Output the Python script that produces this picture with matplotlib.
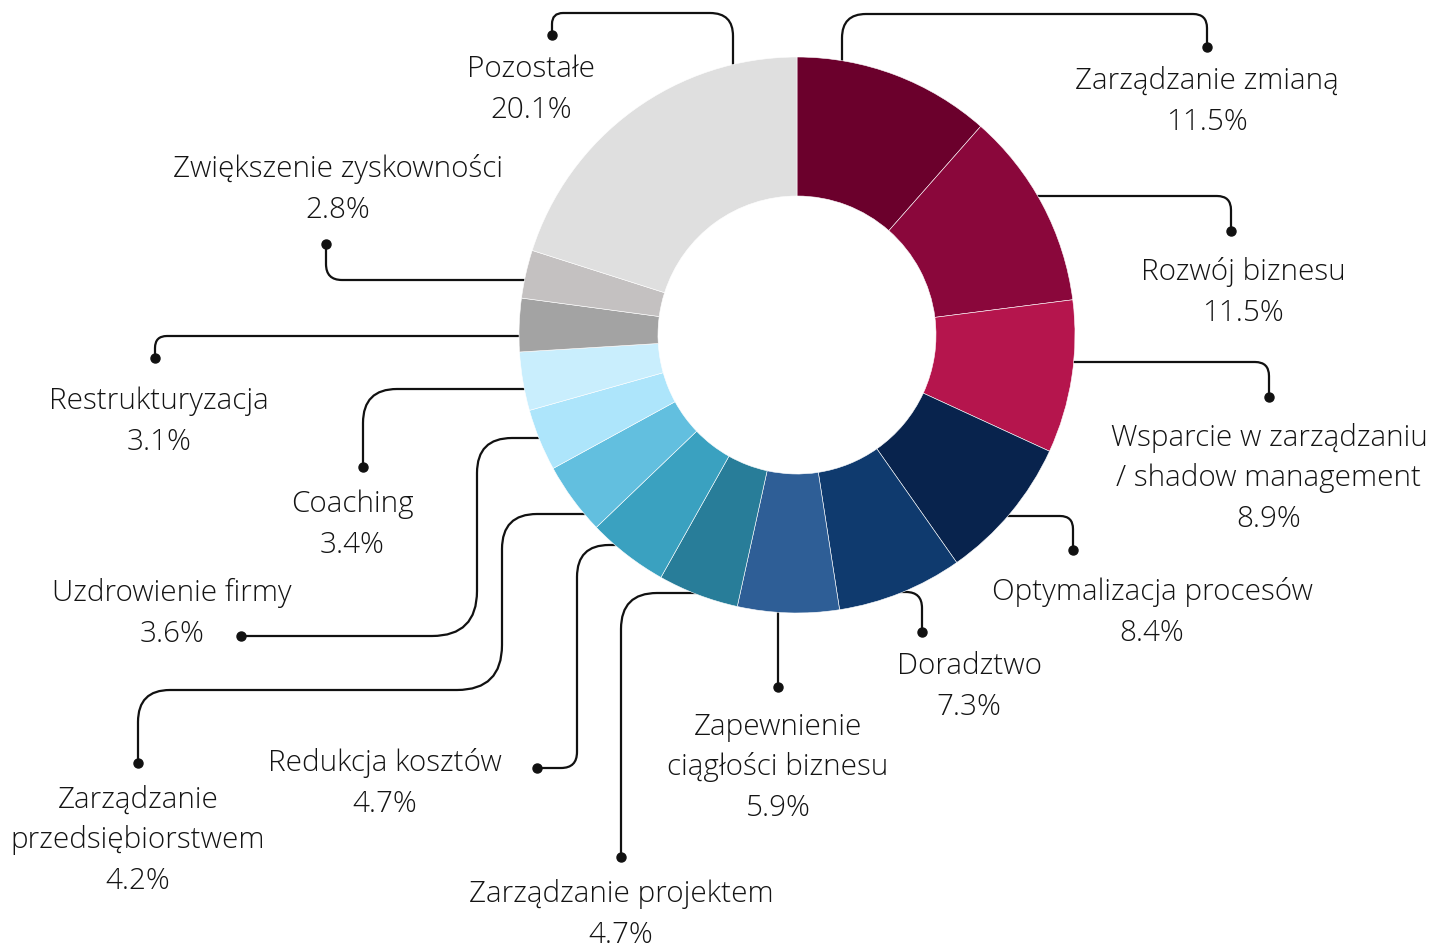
import matplotlib
matplotlib.use("Agg")
import matplotlib.pyplot as plt
from matplotlib.path import Path
from matplotlib.patches import PathPatch
import numpy as np

# ---- data ----
categories = ["Zarządzanie zmianą", "Rozwój biznesu",
              "Wsparcie w zarządzaniu\n/ shadow management",
              "Optymalizacja procesów", "Doradztwo",
              "Zapewnienie\nciągłości biznesu", "Zarządzanie projektem",
              "Redukcja kosztów", "Zarządzanie\nprzedsiębiorstwem",
              "Uzdrowienie firmy", "Coaching", "Restrukturyzacja",
              "Zwiększenie zyskowności", "Pozostałe"]
values = [11.5, 11.5, 8.9, 8.4, 7.3, 5.9, 4.7, 4.7, 4.2, 3.6, 3.4, 3.1, 2.8, 20.1]
colors = ["#6b002c", "#8a073b", "#b5154d", "#08234d", "#0f3a6e", "#2e5e96",
          "#287d99", "#3aa1c0", "#62bfdf", "#ade5fb", "#c9eefd", "#a3a3a3",
          "#c4c1c1", "#dfdfdf"]

# ---- layout (pixel space) ----
W, H = 1451, 947
center = (797, 335)
R = 278
ring = 0.5

# leader polylines: (points, corner radii)
leaders = [
    ([(842, 110), (842, 14), (1207, 14), (1207, 47)], [24, 14]),
    ([(1000, 196), (1231, 196), (1231, 231)], [14]),
    ([(1040, 362), (1269, 362), (1269, 397)], [14]),
    ([(985, 516), (1073, 516), (1073, 550)], [13]),
    ([(880, 592), (922, 592), (922, 632)], [16]),
    ([(778, 580), (778, 687)], []),
    ([(720, 593), (621, 593), (621, 857)], [36]),
    ([(640, 545), (577, 545), (577, 768), (537, 768)], [32, 16]),
    ([(600, 514), (502, 514), (502, 690), (138, 690), (138, 763)], [35, 45, 32]),
    ([(570, 438), (477, 438), (477, 636), (241, 636)], [35, 45]),
    ([(550, 389), (363, 389), (363, 467)], [34]),
    ([(550, 336), (155, 336), (155, 358)], [12]),
    ([(550, 280), (326, 280), (326, 244)], [16]),
    ([(733, 90), (733, 13), (552, 13), (552, 35)], [23, 11]),
]
# centre of first label line
label_pos = [(1207, 79), (1243, 270), (1269, 436), (1152, 590), (969, 664),
             (778, 725), (621, 892), (385, 761), (138, 798), (172, 591),
             (352, 502), (159, 399), (338, 167), (531, 67)]
LINE = 40
PCT = 41
DY = 2

fig = plt.figure(figsize=(W / 100, H / 100), dpi=100)
ax = fig.add_axes([0, 0, 1, 1])

wedges, _ = ax.pie(values, colors=colors, radius=R, center=center,
                   startangle=-90, counterclock=True,
                   wedgeprops=dict(width=R * ring, edgecolor="white",
                                   linewidth=0.4, zorder=3))


def rounded_path(pts, radii):
    verts = [pts[0]]
    codes = [Path.MOVETO]
    for i in range(1, len(pts) - 1):
        p0, p1, p2 = (np.array(pts[i - 1], float), np.array(pts[i], float),
                      np.array(pts[i + 1], float))
        r = radii[i - 1]
        d1 = (p0 - p1) / np.linalg.norm(p0 - p1)
        d2 = (p2 - p1) / np.linalg.norm(p2 - p1)
        a = p1 + d1 * r
        b = p1 + d2 * r
        verts += [tuple(a), tuple(p1), tuple(b)]
        codes += [Path.LINETO, Path.CURVE3, Path.CURVE3]
    verts.append(pts[-1])
    codes.append(Path.LINETO)
    return Path(verts, codes)


for pts, radii in leaders:
    ax.add_patch(PathPatch(rounded_path(pts, radii), facecolor="none",
                           edgecolor="#111111", linewidth=1.6, zorder=1,
                           capstyle="round", joinstyle="round"))
    ax.plot([pts[-1][0]], [pts[-1][1]], "o", color="#111111",
            markersize=6.5, zorder=2)

font = dict(family=["Open Sans", "DejaVu Sans"], fontsize=21.3,
            fontweight=300, color="#141414", ha="center", va="center")
for cat, v, (x, y) in zip(categories, values, label_pos):
    lines = cat.split("\n")
    for k, ln in enumerate(lines):
        ax.text(x, y + DY + k * LINE, ln, **font)
    ax.text(x, y + DY + (len(lines) - 1) * LINE + PCT, f"{v}%", **font)

ax.set_xlim(0, W)
ax.set_ylim(H, 0)
ax.set_aspect("equal")
ax.axis("off")
fig.savefig("out.png", dpi=100, facecolor="white")
